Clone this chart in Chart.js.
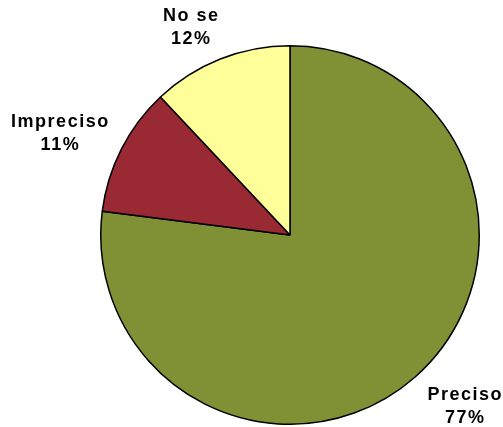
<!DOCTYPE html>
<html>
<head>
<meta charset="utf-8">
<script src="https://cdn.jsdelivr.net/npm/chart.js@4/dist/chart.umd.min.js"></script>
<style>
  html, body { margin: 0; padding: 0; background: #fff; }
  #wrap { width: 503px; height: 427px; }
</style>
</head>
<body>
<div id="wrap"><canvas id="pie" width="503" height="427"></canvas></div>
<script>
// ===== DATA =====
const labels = ['Preciso', 'Impreciso', 'No se'];
const values = [77, 11, 12];
const colors = ['#7f9134', '#992933', '#ffff99'];
// label block offset from the slice's outer mid-point (px)
const labelOffsets = [[49, 28], [-62, -17], [-30, -33]];

// draws "Name / NN%" outside each slice
const outsideLabels = {
  id: 'outsideLabels',
  afterDraw(chart) {
    const ctx = chart.ctx;
    const meta = chart.getDatasetMeta(0);
    ctx.save();
    ctx.fillStyle = '#000';
    ctx.font = 'bold 18px "Liberation Sans", Arial, sans-serif';
    ctx.letterSpacing = '1.5px';
    ctx.textAlign = 'center';
    ctx.textBaseline = 'alphabetic';
    meta.data.forEach((arc, i) => {
      const mid = (arc.startAngle + arc.endAngle) / 2;
      const px = arc.x + Math.cos(mid) * arc.outerRadius + labelOffsets[i][0];
      const py = arc.y + Math.sin(mid) * arc.outerRadius + labelOffsets[i][1];
      ctx.fillText(labels[i], px + 1, py - 5);
      ctx.fillText(values[i] + '%', px + 1, py + 18);
    });
    ctx.restore();
  }
};

new Chart(document.getElementById('pie'), {
  type: 'pie',
  data: {
    labels: labels,
    datasets: [{ data: values, backgroundColor: colors, borderColor: '#000', borderWidth: 1.5 }]
  },
  options: {
    responsive: false,
    animation: false,
    layout: { padding: { left: 100, right: 23, top: 45, bottom: 2 } },
    plugins: { legend: { display: false }, tooltip: { enabled: false } }
  },
  plugins: [outsideLabels]
});
</script>
</body>
</html>
